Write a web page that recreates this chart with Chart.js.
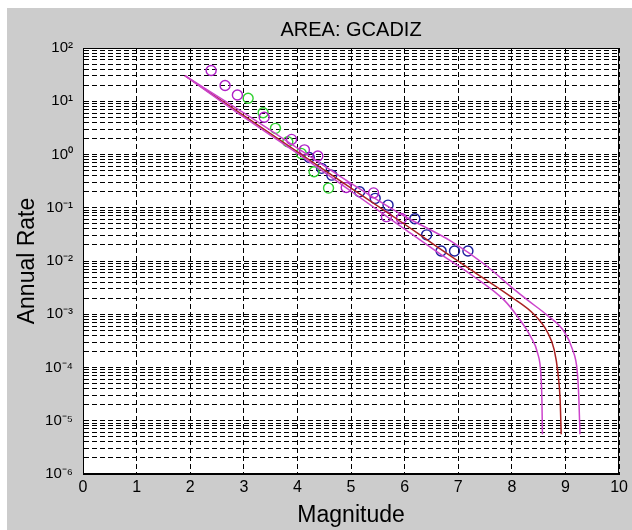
<!DOCTYPE html>
<html><head><meta charset="utf-8">
<script src="https://cdn.jsdelivr.net/npm/chart.js@4/dist/chart.umd.min.js"></script>
<style>
html,body{margin:0;padding:0;background:#ffffff;}
#wrap{position:absolute;left:7px;top:8px;width:625px;height:522px;background:#cccccc;}
canvas{display:block;}
</style></head><body>
<div id="wrap"><canvas id="c" width="625" height="522"></canvas></div>
<script>
// ---- Data ----
const chartTitle = 'AREA: GCADIZ';
const xAxisLabel = 'Magnitude';
const yAxisLabel = 'Annual Rate';
const xTickValues = [0,1,2,3,4,5,6,7,8,9,10];
const yDecadeExponents = [-6,-5,-4,-3,-2,-1,0,1,2];
const yMinorMultiples = [2,3,4,5,6,7,8,9];

// observed rates (circles)
const magentaObsMag  = [2.39, 2.65, 2.88, 3.38, 3.89, 4.13, 4.38, 4.91, 5.42, 5.66, 5.94];
const magentaObsRate = [37.8, 19.8, 13.1, 5.0, 1.92, 1.22, 0.94, 0.24, 0.19, 0.068, 0.063];
const greenObsMag    = [3.08, 3.36, 3.59, 3.82, 4.07, 4.31, 4.58];
const greenObsRate   = [11.4, 6.1, 3.1, 1.74, 1.05, 0.475, 0.234];
const blueObsMag     = [4.22, 4.45, 4.64, 5.16, 5.45, 5.69, 6.19, 6.41, 6.68, 6.93, 7.18];
const blueObsRate    = [0.88, 0.55, 0.41, 0.20, 0.15, 0.112, 0.062, 0.031, 0.0154, 0.0154, 0.0154];

// fitted curves
const centerMag  = [1.9, 3.0, 4.0, 5.0, 6.0, 6.6, 7.3, 7.98, 8.42, 8.66, 8.79, 8.86, 8.9, 8.92];
const centerRate = [30.2, 5.37, 1.12, 0.234, 0.049, 0.0186, 0.00617, 0.00214, 0.000977, 0.000468, 0.000214, 0.0000776, 0.0000245, 0.0000056];
const upperMag   = [1.9, 3.0, 4.0, 5.0, 6.0, 6.87, 7.5, 7.98, 8.3, 8.66, 8.97, 9.13, 9.22, 9.25, 9.27];
const upperRate  = [30.2, 6.03, 1.32, 0.288, 0.0692, 0.0234, 0.00851, 0.00331, 0.00182, 0.000955, 0.000479, 0.000219, 0.0000832, 0.0000251, 0.0000056];
const lowerMag   = [1.9, 3.0, 4.0, 5.0, 6.0, 6.62, 7.3, 7.86, 8.11, 8.35, 8.48, 8.54, 8.56, 8.57];
const lowerRate  = [30.2, 5.01, 1.05, 0.204, 0.0398, 0.0145, 0.00501, 0.00182, 0.000891, 0.00038, 0.000186, 0.0000776, 0.0000251, 0.0000056];

const toPts = (xs, ys) => xs.map((x, i) => ({x: x, y: ys[i]}));
const SUP = {'-':'\u207B','0':'\u2070','1':'\u00B9','2':'\u00B2','3':'\u00B3','4':'\u2074','5':'\u2075','6':'\u2076','7':'\u2077','8':'\u2078','9':'\u2079'};
const sup = (n) => String(n).split('').map(c => SUP[c]).join('');

const yTickVals = [];
yDecadeExponents.forEach((e, k) => {
  yTickVals.push(Math.pow(10, e));
  if (k < yDecadeExponents.length - 1) yMinorMultiples.forEach(m => yTickVals.push(m * Math.pow(10, e)));
});

const FONT = "'Liberation Sans', Arial, sans-serif";

const framePlugin = {
  id: 'frame',
  beforeDraw(chart) {
    const a = chart.chartArea, ctx = chart.ctx;
    ctx.save();
    ctx.fillStyle = '#ffffff';
    ctx.fillRect(a.left, a.top, a.right - a.left, a.bottom - a.top);
    ctx.restore();
  },
  afterDraw(chart) {
    const a = chart.chartArea, ctx = chart.ctx;
    ctx.save();
    ctx.strokeStyle = '#000000';
    ctx.lineWidth = 1;
    const l = Math.round(a.left) + 0.5, t = Math.round(a.top) + 0.5;
    const r = Math.round(a.right) - 0.5, b = Math.round(a.bottom) - 0.5;
    ctx.strokeRect(l, t, r - l, b - t);
    ctx.restore();
  }
};

new Chart(document.getElementById('c'), {
  type: 'scatter',
  data: {
    datasets: [
      {label: 'upper', data: toPts(upperMag, upperRate), showLine: true, borderColor: '#cc44cc', borderWidth: 1.5, pointRadius: 0, cubicInterpolationMode: 'monotone', fill: false},
      {label: 'lower', data: toPts(lowerMag, lowerRate), showLine: true, borderColor: '#cc44cc', borderWidth: 1.5, pointRadius: 0, cubicInterpolationMode: 'monotone', fill: false},
      {label: 'center', data: toPts(centerMag, centerRate), showLine: true, borderColor: '#aa2222', borderWidth: 1.5, pointRadius: 0, cubicInterpolationMode: 'monotone', fill: false},
      {label: 'obs A', data: toPts(magentaObsMag, magentaObsRate), pointStyle: 'circle', pointRadius: 5, borderWidth: 1.4, borderColor: '#b020c8', backgroundColor: 'rgba(0,0,0,0)'},
      {label: 'obs B', data: toPts(greenObsMag, greenObsRate), pointStyle: 'circle', pointRadius: 5, borderWidth: 1.4, borderColor: '#30d030', backgroundColor: 'rgba(0,0,0,0)'},
      {label: 'obs C', data: toPts(blueObsMag, blueObsRate), pointStyle: 'circle', pointRadius: 5, borderWidth: 1.4, borderColor: '#1c1c9c', backgroundColor: 'rgba(0,0,0,0)'}
    ]
  },
  options: {
    responsive: false,
    animation: false,
    devicePixelRatio: 1,
    layout: {padding: {left: 0, right: 10, top: 0, bottom: 0}},
    plugins: {legend: {display: false}, tooltip: {enabled: false}, title: {display: false}},
    scales: {
      x: {
        type: 'linear', position: 'bottom', min: 0, max: 10,
        afterBuildTicks: (s) => { s.ticks = xTickValues.map(v => ({value: v})); },
        afterFit: (s) => { s.height = 56; },
        ticks: {autoSkip: false, maxRotation: 0, padding: 4, color: '#000', font: {family: FONT, size: 16}},
        grid: {display: true, color: '#000000', lineWidth: 1, drawTicks: false},
        border: {display: true, color: '#000000', width: 1, dash: [5, 3]},
        title: {display: true, text: xAxisLabel, color: '#000', font: {family: FONT, size: 23}, padding: {top: 0, bottom: 1}}
      },
      xTop: {
        type: 'linear', position: 'top', min: 0, max: 10,
        afterFit: (s) => { s.height = 40; },
        ticks: {display: false},
        grid: {display: false, drawTicks: false},
        border: {display: false},
        title: {display: true, text: chartTitle, color: '#000', font: {family: FONT, size: 20}, padding: {top: 10, bottom: 0}}
      },
      y: {
        type: 'logarithmic', position: 'left', min: 1e-6, max: 1e2,
        afterBuildTicks: (s) => { s.ticks = yTickVals.map(v => ({value: v})); },
        afterFit: (s) => { s.width = 76; },
        ticks: {
          autoSkip: false, padding: 10, color: '#000', font: {family: FONT, size: 15},
          callback: (value) => {
            const e = Math.round(Math.log10(value));
            if (Math.abs(value / Math.pow(10, e) - 1) < 1e-6) return '10' + sup(e);
            return '';
          }
        },
        grid: {display: true, color: '#000000', lineWidth: 1, drawTicks: false},
        border: {display: true, color: '#000000', width: 1, dash: [5, 3]},
        title: {display: true, text: yAxisLabel, color: '#000', font: {family: FONT, size: 23}, padding: {top: 7, bottom: 0}}
      }
    }
  },
  plugins: [framePlugin]
});
</script>
</body></html>
